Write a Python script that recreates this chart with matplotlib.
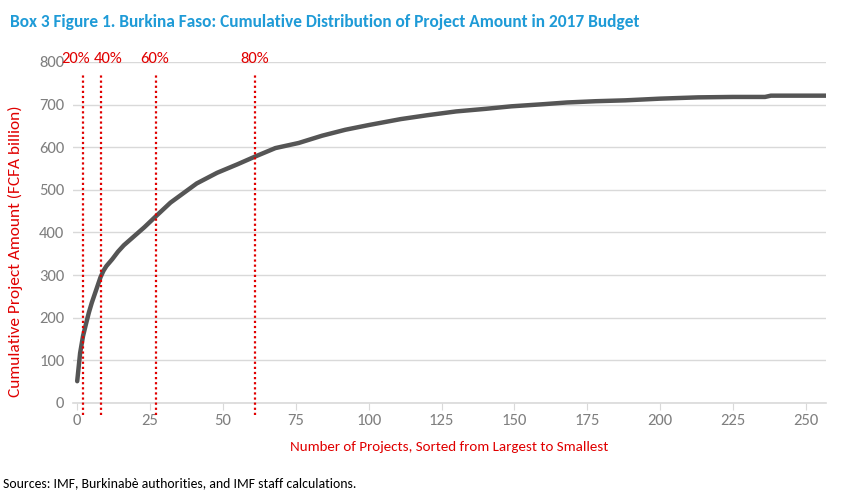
import matplotlib.pyplot as plt

# cumulative project amount (FCFA billion)
proj_n = [0, 1, 2, 3, 4, 5, 6, 7, 8, 9, 10, 12, 14, 16, 19, 23, 27, 32, 37,
          41, 48, 55, 61, 68, 76, 84, 92, 100, 111, 120, 130, 140, 149, 160,
          168, 178, 188, 200, 213, 225, 236, 238, 250, 257]
cum_amount = [51, 117, 157, 185, 212, 235, 255, 275, 295, 310, 321, 337, 355,
              370, 388, 412, 438, 470, 495, 515, 540, 560, 578, 598, 610, 627,
              641, 652, 666, 675, 684, 690, 696, 701, 705, 708, 710, 714, 717,
              718, 718, 721, 721, 721]

pct_labels = ["20%", "40%", "60%", "80%"]
pct_x = [2, 8, 27, 61]
pct_label_x = [-0.5, 10.5, 26.5, 61]

yticks = [0, 100, 200, 300, 400, 500, 600, 700, 800]
xticks = [0, 25, 50, 75, 100, 125, 150, 175, 200, 225, 250]

plt.rcParams['font.family'] = ['Carlito', 'DejaVu Sans']

fig = plt.figure(figsize=(8.67, 4.92), dpi=100)
ax = fig.add_axes([0.084, 0.181, 0.869, 0.693])

ax.plot(proj_n, cum_amount, color="#555555", lw=3.2, solid_capstyle="round",
        solid_joinstyle="round", zorder=3)

for x, lab, lx in zip(pct_x, pct_labels, pct_label_x):
    ax.plot([x, x], [-28, 770], color="#e00000", lw=1.6, ls=(0, (1, 1.3)),
            clip_on=False, zorder=4)
    ax.text(lx, 808, lab, color="#e00000", fontsize=12, ha="center", va="center")

ax.set_xlim(-1.5, 257)
ax.set_ylim(0, 800)
ax.set_yticks(yticks)
ax.set_xticks(xticks)
ax.grid(axis="y", color="#d9d9d9", lw=1)
ax.set_axisbelow(True)
for s in ["top", "right", "left"]:
    ax.spines[s].set_visible(False)
ax.spines["bottom"].set_color("#d9d9d9")
ax.spines["bottom"].set_linewidth(1.2)
ax.tick_params(axis="y", length=0, labelsize=12, labelcolor="#7f7f7f", pad=6)
ax.tick_params(axis="x", length=5, color="#d9d9d9", labelsize=12,
               labelcolor="#7f7f7f", pad=3)

ax.set_xlabel("Number of Projects, Sorted from Largest to Smallest",
              color="#e00000", fontsize=10.8, labelpad=9)
ax.set_ylabel("Cumulative Project Amount (FCFA billion)", color="#e00000",
              fontsize=12.5)
ax.yaxis.set_label_coords(-0.066, 0.445)

fig.text(0.011, 0.955, "Box 3 Figure 1. Burkina Faso: Cumulative Distribution of Project Amount in 2017 Budget",
         color="#1f9bd7", fontsize=12.5, fontweight="bold", va="center")
fig.text(0.004, 0.017, "Sources: IMF, Burkinab\u00e8 authorities, and IMF staff calculations.",
         color="black", fontsize=9.9, va="center")

fig.savefig("out.png", dpi=100)
